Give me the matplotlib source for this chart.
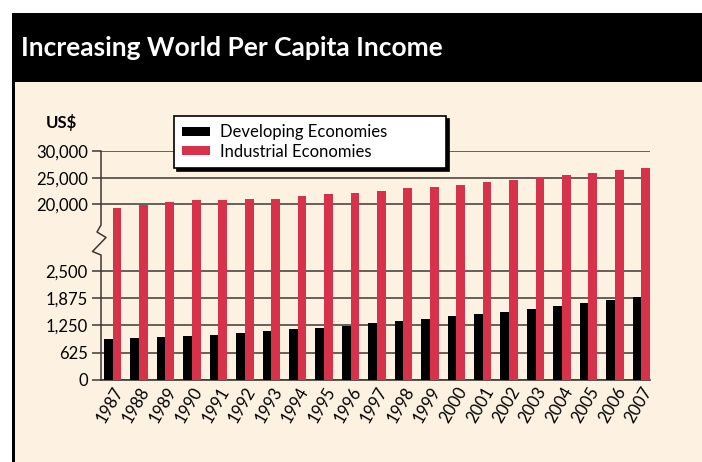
import numpy as np
import matplotlib
matplotlib.use("Agg")
import matplotlib.pyplot as plt
from matplotlib.patches import Rectangle

plt.rcParams['font.family'] = ['Lato', 'DejaVu Sans']

years = [str(y) for y in range(1987, 2008)]
developing = [932, 954, 977, 1000, 1023, 1068, 1114, 1159, 1182, 1227, 1295,
              1341, 1386, 1454, 1500, 1568, 1636, 1704, 1773, 1841, 1909]
industrial = [19100, 19900, 20370, 20740, 20740, 20900, 20900, 21480, 21850, 22040, 22400,
              22960, 23330, 23700, 24260, 24630, 25060, 25560, 25930, 26480, 26850]
yticks = [0, 625, 1250, 1875, 2500, 20000, 25000, 30000]
ytick_labels = ['0', '625', '1,250', '1,875', '2,500', '20,000', '25,000', '30,000']

BEIGE = '#fdf2e2'
RED = '#d6334a'
GRID = '#3d3832'

# broken axis: 0-2500 below, 20000-30000 above
GAP = 2.44
UP = 0.97


def fwd(v):
    v = np.asarray(v, dtype=float)
    return np.where(v <= 2500, v / 625,
                    np.where(v < 20000, 4 + (v - 2500) / 17500 * GAP,
                             4 + GAP + (v - 20000) / 5000 * UP))


def inv(u):
    u = np.asarray(u, dtype=float)
    return np.where(u <= 4, u * 625,
                    np.where(u < 4 + GAP, 2500 + (u - 4) / GAP * 17500,
                             20000 + (u - 4 - GAP) / UP * 5000))


W, H = 702, 462
fig = plt.figure(figsize=(W / 100, H / 100), dpi=100)
fig.patch.set_facecolor('white')

# panel + header
fig.add_artist(Rectangle((15 / W, 0), 1, (H - 82) / H, transform=fig.transFigure,
                         facecolor=BEIGE, edgecolor='none', zorder=0))
fig.add_artist(Rectangle((12 / W, (H - 82) / H), 1, 69 / H, transform=fig.transFigure,
                         facecolor='black', edgecolor='none', zorder=0))
fig.add_artist(Rectangle((12 / W, 0), 3 / W, (H - 13) / H, transform=fig.transFigure,
                         facecolor='black', edgecolor='none', zorder=0))
fig.text(21 / W, 1 - 48 / H, 'Increasing World Per Capita Income', color='white',
         fontsize=19, fontweight='bold', va='center', ha='left')

ax_l, ax_r, ax_b, ax_t = 101, 650, 380, 151.2
ax = fig.add_axes([ax_l / W, (H - ax_b) / H, (ax_r - ax_l) / W, (ax_b - ax_t) / H])
ax.set_facecolor('none')
ax.set_yscale('function', functions=(fwd, inv))

x = np.arange(len(years))
bw = 0.33
ax.bar(x - bw / 2, developing, bw, color='black', label='Developing Economies', zorder=3)
ax.bar(x + bw / 2, industrial, bw, color=RED, label='Industrial Economies', zorder=3)

ax.set_xlim(-0.44, len(years) - 1 + 0.33)
ax.set_ylim(0, 30000)
ax.set_yticks(yticks)
ax.set_yticklabels(ytick_labels)
ax.yaxis.grid(True, color=GRID, lw=1.1, zorder=1)
ax.set_axisbelow(True)
ax.tick_params(axis='y', length=6.5, width=1.1, color=GRID, pad=3, labelsize=12)

ax.set_xticks(x)
ax.set_xticklabels(years, rotation=60, ha='right', va='top', rotation_mode='anchor', fontsize=12)
ax.tick_params(axis='x', length=0, pad=3)

for s in ['top', 'right', 'left']:
    ax.spines[s].set_visible(False)
ax.spines['bottom'].set_color(GRID)
ax.spines['bottom'].set_linewidth(1.2)

# y axis line with break zigzag
aw, ah = ax_r - ax_l, ax_b - ax_t
pts = [(0, ax_t), (0, 225), (-4, 232), (5, 237.5), (-8.5, 251.5), (0, 255), (0, ax_b)]
ax.plot([p[0] / aw for p in pts], [(ax_b - p[1]) / ah for p in pts], transform=ax.transAxes,
        color=GRID, lw=1.1, clip_on=False, zorder=4)

fig.text(46 / W, 1 - 123 / H, 'US$', fontsize=12, fontweight='bold', va='center', ha='left')

leg = fig.legend(loc='upper left', bbox_to_anchor=(174 / W, 1 - 116 / H, 272 / W, 0.0),
                 mode='expand', fontsize=12, frameon=True, fancybox=False,
                 edgecolor='black', facecolor='white', framealpha=1,
                 shadow={'color': 'black', 'alpha': 1},
                 handlelength=1.65, handleheight=0.5, handletextpad=0.6,
                 labelspacing=0.2, borderpad=0.5, borderaxespad=0)
leg.get_frame().set_linewidth(1.2)

fig.savefig('out.png', dpi=100, facecolor='white')
